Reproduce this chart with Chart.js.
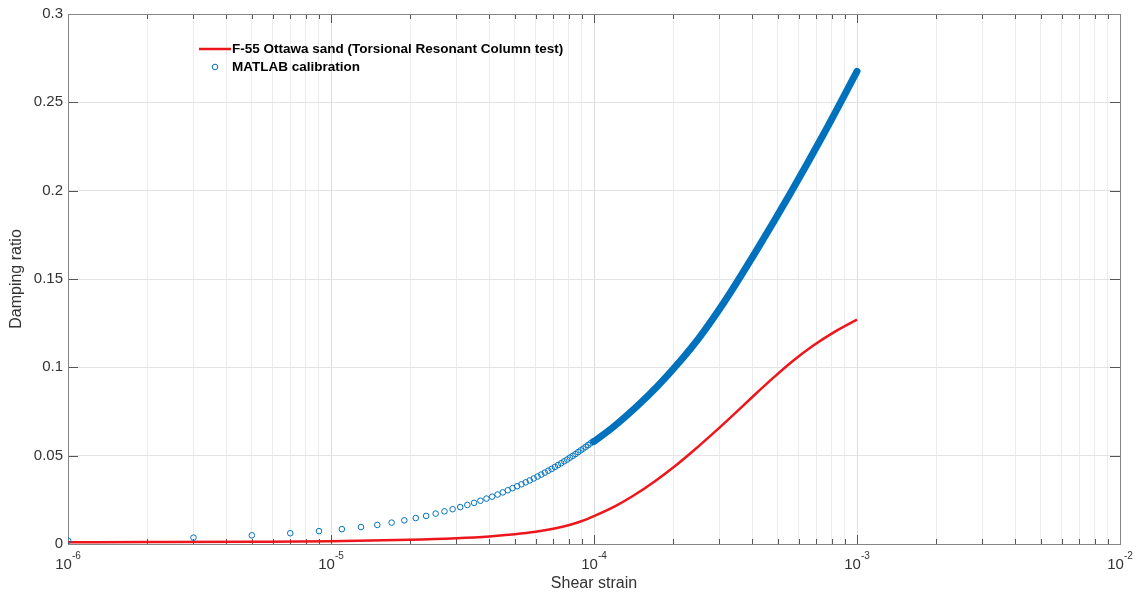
<!DOCTYPE html>
<html>
<head>
<meta charset="utf-8">
<title>Damping ratio vs shear strain</title>
<script src="https://cdn.jsdelivr.net/npm/chart.js@4.4.1/dist/chart.umd.min.js"></script>
<style>
  html, body { margin: 0; padding: 0; background: #fff; }
</style>
</head>
<body>
<canvas id="dampingChart" width="1140" height="596"></canvas>
<script>
const dampingChart = document.getElementById('dampingChart');

const seriesNames = ['F-55 Ottawa sand (Torsional Resonant Column test)', 'MATLAB calibration'];

// resonant column test curve
const testStrain = [1e-6, 2e-6, 5e-6, 1e-5, 2e-5, 3e-5, 4e-5, 5e-5, 6e-5, 7e-5, 8e-5, 9e-5,
    1e-4, 1.2e-4, 1.4e-4, 1.7e-4, 2e-4, 2.4e-4, 3e-4, 3.5e-4, 4e-4, 4.8e-4, 5.7e-4, 6.8e-4, 8.1e-4, 1e-3];
const testDamping = [0.0010, 0.0011, 0.0013, 0.0016, 0.0024, 0.0033, 0.0043, 0.0055, 0.0069, 0.0086, 0.0106, 0.0130,
    0.0158, 0.0213, 0.0270, 0.0354, 0.0433, 0.0531, 0.0659, 0.0751, 0.0832, 0.0940, 0.1036, 0.1122, 0.1195, 0.1270];

// calibration points, low strain end (individual markers)
const calStrain = [1e-6, 3e-6, 5e-6, 7e-6, 9e-6, 11e-6, 13e-6, 15e-6, 17e-6, 19e-6,
    21e-6, 23e-6, 25e-6, 27e-6, 29e-6, 31e-6, 33e-6, 35e-6, 37e-6, 39e-6,
    41e-6, 43e-6, 45e-6, 47e-6, 49e-6, 51e-6, 53e-6, 55e-6, 57e-6, 59e-6,
    61e-6, 63e-6, 65e-6, 67e-6, 69e-6, 71e-6, 73e-6, 75e-6, 77e-6, 79e-6,
    81e-6, 83e-6, 85e-6, 87e-6, 89e-6, 91e-6, 93e-6, 95e-6, 97e-6, 99e-6];
const calDamping = [0.0019, 0.0036, 0.0049, 0.0061, 0.0073, 0.0084, 0.0096, 0.0108, 0.0121, 0.0134,
    0.0147, 0.0159, 0.0172, 0.0185, 0.0197, 0.0209, 0.0221, 0.0233, 0.0245, 0.0257,
    0.0268, 0.0280, 0.0292, 0.0304, 0.0316, 0.0327, 0.0338, 0.0349, 0.0360, 0.0371,
    0.0382, 0.0393, 0.0404, 0.0415, 0.0425, 0.0436, 0.0447, 0.0457, 0.0468, 0.0478,
    0.0489, 0.0499, 0.0509, 0.0520, 0.0530, 0.0540, 0.0550, 0.0560, 0.0570, 0.0580];

// calibration points above 1e-4 overlap into a solid band
const calStrainBand = [1e-4, 1.185e-4, 1.45e-4, 1.73e-4, 2.12e-4, 2.53e-4, 3.1e-4, 4.15e-4, 5.56e-4, 7.45e-4, 1e-3];
const calDampingBand = [0.0580, 0.0663, 0.0777, 0.0888, 0.1033, 0.1174, 0.1361, 0.1662, 0.1981, 0.2318, 0.2675];

const yTicks = [0, 0.05, 0.1, 0.15, 0.2, 0.25, 0.3];
const yTickLabels = ['0', '0.05', '0.1', '0.15', '0.2', '0.25', '0.3'];
const xDecades = [1e-6, 1e-5, 1e-4, 1e-3, 1e-2];
const xDecadeExponents = ['-6', '-5', '-4', '-3', '-2'];

const red = 'rgb(236, 22, 28)';
const blue = '#0072BD';
const axisColor = '#858585';
const labelColor = '#333';
const fontFamily = '"Liberation Sans", Arial, Helvetica, sans-serif';

function toPoints(xs, ys) {
    return xs.map((x, i) => ({ x: x, y: ys[i] }));
}

// log ticks: decades plus 2..9 in between
function logTicks() {
    const ticks = [];
    for (let d = 0; d < xDecades.length; d++) {
        ticks.push({ value: xDecades[d], decade: d });
        if (d === xDecades.length - 1) break;
        for (let m = 2; m <= 9; m++) {
            ticks.push({ value: m * xDecades[d] });
        }
    }
    return ticks;
}

// MATLAB style box with inward tick marks
const boxTicks = {
    id: 'boxTicks',
    beforeDatasetsDraw(chart) {
        const { ctx, chartArea: a } = chart;
        const xs = chart.scales.x, ys = chart.scales.y;
        ctx.save();
        ctx.strokeStyle = '#555';
        ctx.lineWidth = 1;
        ctx.beginPath();
        xs.ticks.forEach(t => {
            const px = Math.round(xs.getPixelForValue(t.value)) + 0.5;
            const len = t.decade !== undefined ? 9 : 5;
            ctx.moveTo(px, a.bottom); ctx.lineTo(px, a.bottom - len);
            ctx.moveTo(px, a.top); ctx.lineTo(px, a.top + len);
        });
        ys.ticks.forEach(t => {
            const py = Math.round(ys.getPixelForValue(t.value)) + 0.5;
            ctx.moveTo(a.left, py); ctx.lineTo(a.left + 10, py);
            ctx.moveTo(a.right, py); ctx.lineTo(a.right - 10, py);
        });
        ctx.stroke();
        ctx.strokeStyle = axisColor;
        ctx.strokeRect(Math.round(a.left) + 0.5, Math.round(a.top) + 0.5,
            Math.round(a.right - a.left), Math.round(a.bottom - a.top));
        ctx.restore();
    }
};

// decade labels as 10 with a raised exponent
const decadeLabels = {
    id: 'decadeLabels',
    afterDraw(chart) {
        const { ctx, chartArea: a } = chart;
        const xs = chart.scales.x;
        ctx.save();
        ctx.fillStyle = labelColor;
        ctx.textBaseline = 'alphabetic';
        xDecades.forEach((v, i) => {
            const px = xs.getPixelForValue(v);
            ctx.font = '15px ' + fontFamily;
            const wBase = ctx.measureText('10').width;
            ctx.font = '10px ' + fontFamily;
            const wExp = ctx.measureText(xDecadeExponents[i]).width;
            const left = px - (wBase + wExp) / 2;
            ctx.font = '15px ' + fontFamily;
            ctx.fillText('10', left, a.bottom + 25);
            ctx.font = '10px ' + fontFamily;
            ctx.fillText(xDecadeExponents[i], left + wBase, a.bottom + 15);
        });
        ctx.restore();
    }
};

// legend without a box, inside the axes
const insideLegend = {
    id: 'insideLegend',
    afterDraw(chart) {
        const { ctx, chartArea: a } = chart;
        const x0 = a.left + 131;
        ctx.save();
        ctx.font = 'bold 13.5px ' + fontFamily;
        ctx.fillStyle = '#000';
        ctx.textBaseline = 'middle';
        ctx.strokeStyle = red;
        ctx.lineWidth = 2.5;
        ctx.beginPath();
        ctx.moveTo(x0, a.top + 35);
        ctx.lineTo(x0 + 32, a.top + 35);
        ctx.stroke();
        ctx.fillText(seriesNames[0], x0 + 33, a.top + 35);
        ctx.strokeStyle = blue;
        ctx.lineWidth = 1;
        ctx.beginPath();
        ctx.arc(x0 + 16, a.top + 53, 2.8, 0, Math.PI * 2);
        ctx.stroke();
        ctx.fillText(seriesNames[1], x0 + 33, a.top + 53);
        ctx.restore();
    }
};

new Chart(dampingChart, {
    type: 'scatter',
    data: {
        datasets: [
            {
                label: seriesNames[0],
                data: toPoints(testStrain, testDamping),
                showLine: true,
                borderColor: red,
                borderWidth: 2.5,
                pointRadius: 0,
                cubicInterpolationMode: 'monotone',
                order: 2
            },
            {
                label: seriesNames[1],
                data: toPoints(calStrain, calDamping),
                borderColor: blue,
                backgroundColor: 'rgba(0,0,0,0)',
                borderWidth: 1,
                pointRadius: 2.8,
                pointStyle: 'circle',
                order: 1
            },
            {
                label: seriesNames[1] + ' band',
                data: toPoints(calStrainBand, calDampingBand),
                showLine: true,
                borderColor: blue,
                borderWidth: 7,
                borderCapStyle: 'round',
                borderJoinStyle: 'round',
                pointRadius: 0,
                cubicInterpolationMode: 'monotone',
                order: 0
            }
        ]
    },
    options: {
        responsive: false,
        animation: false,
        devicePixelRatio: 1,
        layout: { padding: { top: 13, right: 20, left: 0, bottom: 0 } },
        plugins: {
            legend: { display: false },
            tooltip: { enabled: false }
        },
        scales: {
            x: {
                type: 'logarithmic',
                min: 1e-6,
                max: 1e-2,
                afterBuildTicks: scale => { scale.ticks = logTicks(); },
                afterFit: scale => { scale.height = 52; },
                grid: {
                    drawTicks: false,
                    color: ctx => (ctx.tick && ctx.tick.decade !== undefined) ? '#dcdcdc' : '#ececec'
                },
                border: { display: false },
                ticks: { display: false, autoSkip: false },
                title: {
                    display: true,
                    text: 'Shear strain',
                    color: labelColor,
                    font: { family: fontFamily, size: 16 },
                    padding: { top: 0, bottom: 3 }
                }
            },
            y: {
                min: 0,
                max: 0.3,
                afterBuildTicks: scale => { scale.ticks = yTicks.map(v => ({ value: v })); },
                afterFit: scale => { scale.width = 68; },
                grid: { drawTicks: false, color: '#e4e4e4' },
                border: { display: false },
                ticks: {
                    padding: 5,
                    color: labelColor,
                    font: { family: fontFamily, size: 15 },
                    callback: (value, index) => yTickLabels[index]
                },
                title: {
                    display: true,
                    text: 'Damping ratio',
                    color: labelColor,
                    font: { family: fontFamily, size: 16 },
                    padding: { top: 7, bottom: 0 }
                }
            }
        }
    },
    plugins: [boxTicks, decadeLabels, insideLegend]
});
</script>
</body>
</html>
